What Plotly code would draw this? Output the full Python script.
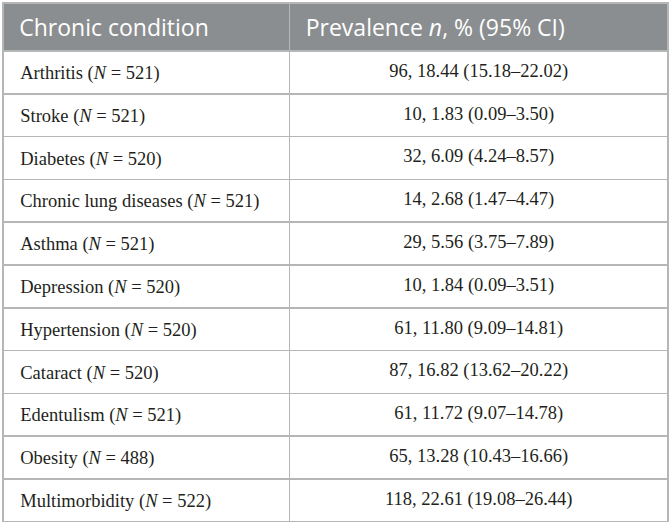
import plotly.graph_objects as go

# Données du tableau
conditions = [
    "Arthritis", "Stroke", "Diabetes", "Chronic lung diseases", "Asthma",
    "Depression", "Hypertension", "Cataract", "Edentulism", "Obesity",
    "Multimorbidity",
]
effectifs = [521, 521, 520, 521, 521, 520, 520, 520, 521, 488, 522]
cas = [96, 10, 32, 14, 29, 10, 61, 87, 61, 65, 118]
prevalence = [18.44, 1.83, 6.09, 2.68, 5.56, 1.84, 11.80, 16.82, 11.72, 13.28, 22.61]
ic_bas = [15.18, 0.09, 4.24, 1.47, 3.75, 0.09, 9.09, 13.62, 9.07, 10.43, 19.08]
ic_haut = [22.02, 3.50, 8.57, 4.47, 7.89, 3.51, 14.81, 20.22, 14.78, 16.66, 26.44]
entetes = ["<span>Chronic condition</span>", "Prevalence <i>n</i>, % (95% CI)"]

nb = "\u00a0"
col_gauche = [f"{nb*2}{c} (<i>N</i> = {n})" for c, n in zip(conditions, effectifs)]
col_droite = [
    f"{k}, {p:.2f} ({lo:.2f}–{hi:.2f})"
    for k, p, lo, hi in zip(cas, prevalence, ic_bas, ic_haut)
]

fig = go.Figure()
fig.add_trace(go.Table(
    columnwidth=[286, 378],
    header=dict(
        values=["\u200a" + nb + h for h in entetes],
        fill_color="#8b8e90",
        line=dict(color="#b5b7b7", width=1.5),
        align=["left", "left"],
        font=dict(family="Open Sans", size=23, color="white"),
        height=47,
    ),
    cells=dict(
        values=[col_gauche, col_droite],
        fill_color="white",
        line=dict(color="#b5b7b7", width=1.5),
        align=["left", "center"],
        font=dict(family="Liberation Serif", size=18.5, color="#231f20"),
        height=42.8,
    ),
))

fig.update_layout(
    width=671,
    height=524,
    margin=dict(l=3, r=3, t=3, b=2),
    paper_bgcolor="white",
)

# body sans marge + texte des cellules un peu plus bas (centrage vertical)
js = """
document.body.style.margin='0';
var s = document.createElement('style');
s.textContent = '#cells1 .cell-text, #cells2 .cell-text {transform: translateY(4px);}';
document.head.appendChild(s);
"""
fig.write_html("out.html", post_script=js, config={"displayModeBar": False})
